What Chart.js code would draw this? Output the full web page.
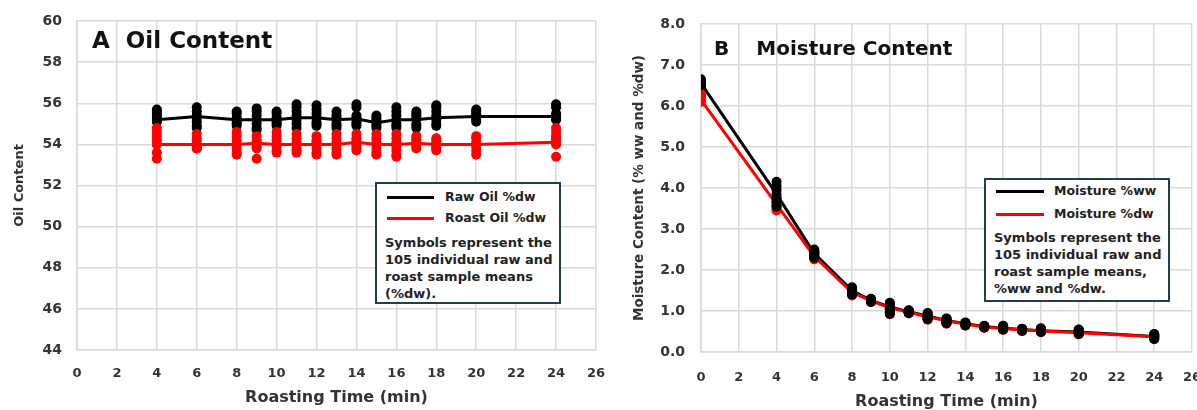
<!DOCTYPE html>
<html>
<head>
<meta charset="utf-8">
<script src="https://cdn.jsdelivr.net/npm/chart.js@4/dist/chart.umd.min.js"></script>
<style>
    body { margin: 0; background: #fff; width: 1197px; height: 410px; overflow: hidden; position: relative; font-family: 'DejaVu Sans', sans-serif; }
    .wrap { position: absolute; top: 0; width: 620px; height: 410px; }
    #wrapA { left: 0; }
    #wrapB { left: 600px; }
    .panel-title { position: absolute; font-weight: bold; color: #111; line-height: 1; white-space: nowrap; }
    .legend { position: absolute; box-sizing: border-box; background: #fff; border: 2px solid #243e4e; color: #222; }
    .legend .swatch { position: absolute; height: 3px; }
    .legend .label { position: absolute; font-size: 12.5px; font-weight: bold; line-height: 18px; white-space: nowrap; }
    .legend .note { position: absolute; font-size: 13px; font-weight: bold; line-height: 17px; white-space: nowrap; }
</style>
</head>
<body>
<div class="wrap" id="wrapA"><canvas id="oilChart" width="620" height="410"></canvas></div>
<div class="wrap" id="wrapB"><canvas id="moistureChart" width="620" height="410"></canvas></div>

<div class="panel-title" style="left:92px; top:29px; font-size:23px;">A<span style="margin-left:16px">Oil Content</span></div>
<div class="panel-title" style="left:714px; top:38px; font-size:20px;">B<span style="margin-left:27px">Moisture Content</span></div>

<div class="legend" id="legendA" style="left:375px; top:182px; width:186px; height:122px;"></div>
<div class="legend" id="legendB" style="left:984px; top:178px; width:186px; height:124px;"></div>

<script>
// Panel A - oil content, 7 samples per roasting time
const oilTimes = [4, 6, 8, 9, 10, 11, 12, 13, 14, 15, 16, 17, 18, 20, 24];
const rawOilMean = [55.2, 55.35, 55.2, 55.2, 55.2, 55.3, 55.3, 55.2, 55.25, 55.05, 55.2, 55.2, 55.3, 55.35, 55.35];
const roastOilMean = [54.0, 54.0, 54.0, 54.05, 54.0, 54.0, 54.0, 54.0, 54.1, 54.0, 54.0, 54.05, 54.0, 54.0, 54.1];
const rawOilSamples = [
    [55.7, 55.6, 55.5, 55.4, 55.3, 55.2, 55.1],
    [55.8, 55.6, 55.4, 55.3, 55.1, 54.9, 54.8],
    [55.6, 55.5, 55.3, 55.2, 55.1, 55.0, 54.9],
    [55.75, 55.6, 55.4, 55.2, 55.0, 54.8, 54.7],
    [55.6, 55.5, 55.3, 55.2, 55.1, 55.0, 54.9],
    [55.95, 55.8, 55.6, 55.4, 55.2, 55.0, 54.8],
    [55.9, 55.7, 55.5, 55.3, 55.1, 55.0, 54.9],
    [55.6, 55.4, 55.3, 55.2, 55.0, 54.9, 54.8],
    [55.95, 55.8, 55.4, 55.3, 55.1, 55.0, 54.9],
    [55.4, 55.3, 55.2, 55.1, 55.0, 54.9, 54.8],
    [55.8, 55.6, 55.4, 55.2, 55.0, 54.9, 54.8],
    [55.6, 55.5, 55.4, 55.3, 55.0, 54.9, 54.8],
    [55.9, 55.8, 55.6, 55.4, 55.2, 55.0, 54.9],
    [55.7, 55.6, 55.5, 55.4, 55.3, 55.2, 55.1],
    [55.95, 55.8, 55.5, 55.4, 55.3, 55.25, 55.2]
];
const roastOilSamples = [
    [54.8, 54.6, 54.4, 54.2, 54.0, 53.6, 53.3],
    [54.5, 54.3, 54.2, 54.0, 53.9, 53.8, 53.8],
    [54.6, 54.4, 54.2, 54.0, 53.8, 53.6, 53.5],
    [54.4, 54.2, 54.1, 54.0, 53.9, 53.8, 53.3],
    [54.6, 54.4, 54.2, 54.0, 53.9, 53.7, 53.6],
    [54.5, 54.3, 54.1, 54.0, 53.8, 53.7, 53.6],
    [54.4, 54.2, 54.1, 54.0, 53.8, 53.6, 53.5],
    [54.5, 54.3, 54.1, 54.0, 53.8, 53.6, 53.5],
    [54.5, 54.3, 54.2, 54.0, 53.9, 53.8, 53.7],
    [54.5, 54.3, 54.1, 54.0, 53.8, 53.6, 53.5],
    [54.5, 54.3, 54.1, 53.9, 53.7, 53.5, 53.4],
    [54.4, 54.3, 54.2, 54.1, 54.0, 53.9, 53.8],
    [54.3, 54.2, 54.1, 54.0, 53.9, 53.8, 53.7],
    [54.4, 54.3, 54.1, 54.0, 53.9, 53.7, 53.5],
    [54.8, 54.6, 54.4, 54.3, 54.2, 54.0, 53.4]
];

// Panel B - moisture content
const moistTimes = [0, 4, 6, 8, 9, 10, 11, 12, 13, 14, 15, 16, 17, 18, 20, 24];
const moistWwMean = [6.55, 3.85, 2.4, 1.5, 1.26, 1.1, 0.98, 0.88, 0.77, 0.69, 0.62, 0.58, 0.55, 0.52, 0.49, 0.38];
const moistDwMean = [6.15, 3.6, 2.33, 1.45, 1.25, 1.08, 0.97, 0.86, 0.76, 0.68, 0.61, 0.57, 0.54, 0.51, 0.47, 0.37];
const moistWwSamples = [
    [6.65, 6.62, 6.6, 6.57, 6.55, 6.52, 6.5],
    [4.15, 4.05, 3.95, 3.85, 3.75, 3.65, 3.55],
    [2.5, 2.47, 2.43, 2.4, 2.37, 2.33, 2.3],
    [1.58, 1.55, 1.52, 1.5, 1.47, 1.44, 1.4],
    [1.3, 1.28, 1.27, 1.25, 1.24, 1.23, 1.22],
    [1.2, 1.15, 1.1, 1.05, 1.0, 0.97, 0.93],
    [1.02, 1.0, 0.99, 0.98, 0.97, 0.96, 0.95],
    [0.95, 0.92, 0.89, 0.86, 0.84, 0.82, 0.8],
    [0.82, 0.8, 0.78, 0.76, 0.74, 0.72, 0.7],
    [0.72, 0.71, 0.69, 0.68, 0.67, 0.66, 0.65],
    [0.64, 0.63, 0.63, 0.62, 0.61, 0.61, 0.6],
    [0.64, 0.62, 0.6, 0.58, 0.57, 0.56, 0.55],
    [0.57, 0.56, 0.55, 0.55, 0.54, 0.53, 0.52],
    [0.58, 0.56, 0.54, 0.52, 0.51, 0.5, 0.49],
    [0.55, 0.53, 0.51, 0.49, 0.47, 0.45, 0.44],
    [0.44, 0.42, 0.4, 0.38, 0.36, 0.34, 0.32]
];
const moistDwSamples = [
    [6.28, 6.25, 6.22, 6.2, 6.17, 6.14, 6.1],
    [3.75, 3.7, 3.65, 3.6, 3.55, 3.5, 3.45],
    [2.45, 2.42, 2.38, 2.35, 2.32, 2.29, 2.26],
    [1.55, 1.52, 1.49, 1.46, 1.43, 1.41, 1.38],
    [1.28, 1.27, 1.26, 1.25, 1.24, 1.23, 1.22],
    [1.18, 1.13, 1.08, 1.04, 1.0, 0.96, 0.92],
    [1.01, 0.99, 0.98, 0.97, 0.96, 0.95, 0.94],
    [0.94, 0.91, 0.88, 0.86, 0.83, 0.81, 0.79],
    [0.81, 0.79, 0.77, 0.75, 0.73, 0.71, 0.69],
    [0.71, 0.7, 0.69, 0.68, 0.67, 0.66, 0.64],
    [0.63, 0.62, 0.62, 0.61, 0.6, 0.6, 0.59],
    [0.63, 0.61, 0.59, 0.57, 0.56, 0.55, 0.54],
    [0.56, 0.55, 0.54, 0.54, 0.53, 0.52, 0.51],
    [0.57, 0.55, 0.53, 0.51, 0.5, 0.49, 0.48],
    [0.54, 0.52, 0.5, 0.48, 0.46, 0.44, 0.43],
    [0.43, 0.41, 0.39, 0.37, 0.35, 0.33, 0.31]
];

const oilLabels = ['Raw Oil %dw', 'Roast Oil %dw'];
const moistLabels = ['Moisture %ww', 'Moisture %dw'];
const oilNote = ['Symbols represent the', '105 individual raw and', 'roast sample means', '(%dw).'];
const moistNote = ['Symbols represent the', '105 individual raw and', 'roast sample means,', '%ww and %dw.'];

const BLACK = '#000000';
const RED = '#ff0000';
const GRID = '#d9d9d9';
const TEXT = '#333333';

const toPoints = (times, samples) => times.flatMap((t, i) => samples[i].map(v => ({ x: t, y: v })));
const toLine = (times, means) => times.map((t, i) => ({ x: t, y: means[i] }));

const dotSet = (label, data, color, order) => ({
    label, data, order,
    backgroundColor: color,
    borderWidth: 0,
    pointRadius: 5,
    showLine: false
});
const lineSet = (label, data, color, order) => ({
    label, data, order,
    borderColor: color,
    backgroundColor: color,
    borderWidth: 3,
    pointRadius: 0,
    showLine: true,
    tension: 0
});

// build options for one panel, pinning the plot area in place
const panelOptions = (geo, yMin, yMax, yStep, yTitle, yFmt) => ({
    responsive: false,
    animation: false,
    layout: { padding: { top: geo.top, right: geo.right, bottom: 0, left: 0 } },
    plugins: { legend: { display: false }, tooltip: { enabled: false } },
    scales: {
        x: {
            type: 'linear', min: 0, max: 26,
            grid: { color: GRID, lineWidth: 1.5, drawTicks: false },
            border: { color: GRID, width: 1.5 },
            ticks: { stepSize: 2, padding: geo.xPad, color: TEXT, font: { family: 'DejaVu Sans', size: 13, weight: 'bold' } },
            title: { display: true, text: 'Roasting Time (min)', color: TEXT, padding: { top: 0, bottom: geo.xTitlePad },
                     font: { family: 'DejaVu Sans', size: 16, weight: 'bold', lineHeight: 1 } },
            afterFit: (s) => { s.height = geo.xHeight; s.paddingLeft = 0; s.paddingRight = 0; }
        },
        y: {
            min: yMin, max: yMax,
            grid: { color: GRID, lineWidth: 1.5, drawTicks: false },
            border: { color: GRID, width: 1.5 },
            ticks: { stepSize: yStep, padding: geo.yPad, color: TEXT, callback: yFmt,
                     font: { family: 'DejaVu Sans', size: 14, weight: 'bold' } },
            title: { display: true, text: yTitle, color: TEXT, padding: { top: geo.yTitlePad, bottom: 0 },
                     font: { family: 'DejaVu Sans', size: geo.yTitleSize, weight: 'bold', lineHeight: 1 } },
            afterFit: (s) => { s.width = geo.yWidth; s.paddingTop = 0; s.paddingBottom = 0; }
        }
    }
});

new Chart(document.getElementById('oilChart'), {
    type: 'scatter',
    data: {
        datasets: [
            lineSet(oilLabels[1], toLine(oilTimes, roastOilMean), RED, 0),
            lineSet(oilLabels[0], toLine(oilTimes, rawOilMean), BLACK, 1),
            dotSet('roast samples', toPoints(oilTimes, roastOilSamples), RED, 2),
            dotSet('raw samples', toPoints(oilTimes, rawOilSamples), BLACK, 3)
        ]
    },
    options: panelOptions(
        { top: 21, right: 24, xHeight: 60, yWidth: 77, xPad: 16, yPad: 15, xTitlePad: 4, yTitlePad: 13, yTitleSize: 13 },
        44, 60, 2, 'Oil Content', (v) => v)
});

new Chart(document.getElementById('moistureChart'), {
    type: 'scatter',
    data: {
        datasets: [
            dotSet('ww samples', toPoints(moistTimes, moistWwSamples), BLACK, 0),
            dotSet('dw samples', toPoints(moistTimes, moistDwSamples), RED, 1),
            lineSet(moistLabels[1], toLine(moistTimes, moistDwMean), RED, 2),
            lineSet(moistLabels[0], toLine(moistTimes, moistWwMean), BLACK, 3)
        ]
    },
    options: panelOptions(
        { top: 24, right: 28, xHeight: 58, yWidth: 101, xPad: 18, yPad: 16, xTitlePad: 0, yTitlePad: 33, yTitleSize: 13.5 },
        0, 8, 1, 'Moisture Content (% ww and %dw)', (v) => v.toFixed(1))
});

// legend boxes as html
const buildLegend = (el, labels, note, layout) => {
    const colors = [BLACK, RED];
    labels.forEach((text, i) => {
        const sw = document.createElement('div');
        sw.className = 'swatch';
        sw.style.left = layout.swLeft + 'px';
        sw.style.width = layout.swWidth + 'px';
        sw.style.top = (layout.rows[i] - 1.5) + 'px';
        sw.style.background = colors[i];
        el.appendChild(sw);
        const lb = document.createElement('div');
        lb.className = 'label';
        lb.style.left = layout.textLeft + 'px';
        lb.style.top = (layout.rows[i] - 9) + 'px';
        lb.textContent = text;
        el.appendChild(lb);
    });
    const nt = document.createElement('div');
    nt.className = 'note';
    nt.style.left = layout.noteLeft + 'px';
    nt.style.top = (layout.noteTop - 8.5) + 'px';
    nt.innerHTML = note.join('<br>');
    el.appendChild(nt);
};

buildLegend(document.getElementById('legendA'), oilLabels, oilNote,
    { swLeft: 10, swWidth: 47, textLeft: 68, rows: [13, 34], noteLeft: 8, noteTop: 58 });
buildLegend(document.getElementById('legendB'), moistLabels, moistNote,
    { swLeft: 10, swWidth: 48, textLeft: 68, rows: [11, 34], noteLeft: 8, noteTop: 57 });
</script>
</body>
</html>
